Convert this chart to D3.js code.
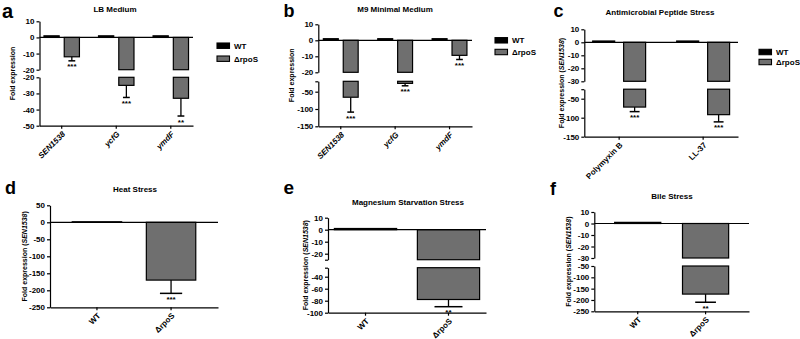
<!DOCTYPE html>
<html>
<head>
<meta charset="utf-8">
<script src="https://cdn.jsdelivr.net/npm/d3@7"></script>
<style>
  body { margin: 0; background: #fff; }
  svg { display: block; font-family: "Liberation Sans", Arial, sans-serif; font-weight: bold; }
</style>
</head>
<body>
<svg width="800" height="339"></svg>
<script>
const svg = d3.select("svg");

// ---- data ----
const seriesNames = ["WT", "\u0394rpoS"];
const genes = ["SEN1538", "ycfG", "ymdF"];
const peptides = ["Polymyxin B", "LL-37"];

// a: LB medium
const lbWT = [1, 1, 1];
const lbRpoS = [-12, -25, -33];
const lbErr = [2.5, 7.5, 11];
const lbStars = ["***", "***", "**"];
const lbTicksUpper = [10, 0, -10, -20];
const lbTicksLower = [-20, -30, -40, -50];

// b: M9 minimal medium
const m9WT = [1, 1, 1];
const m9RpoS = [-66, -26, -9.4];
const m9Err = [43, 7, 2.6];
const m9Stars = ["***", "***", "***"];
const m9TicksUpper = [10, 0, -10, -20];
const m9TicksLower = [-50, -100, -150];

// c: antimicrobial peptides
const ampWT = [1, 1];
const ampRpoS = [-72, -92];
const ampErr = [12, 19];
const ampStars = ["***", "***"];
const ampTicksUpper = [10, 0, -10, -20, -30];
const ampTicksLower = [-50, -100, -150];

// d: heat
const heatValues = [1.5, -170];
const heatErr = [0, 39];
const heatStars = ["", "***"];
const heatTicks = [50, 0, -50, -100, -150, -200, -250];

// e: magnesium starvation
const mgValues = [1, -78];
const mgErr = [0, 12];
const mgStars = ["", "**"];
const mgTicksUpper = [10, 0, -10, -20];
const mgTicksLower = [-40, -60, -80, -100];

// f: bile
const bileValues = [1, -174];
const bileErr = [0, 36];
const bileStars = ["", "**"];
const bileTicksUpper = [10, 0, -10, -20, -30];
const bileTicksLower = [-50, -100, -150, -200, -250];

const colorWT = "#000";
const colorRpoS = "#6f6f6f";

// ---- panel layout ----
const panels = [
  { letter: "a", lx: 2, ly: 18, lsize: 20, title: "LB Medium", tx: 115, ty: 12,
    cats: genes, italic: true, grouped: true, wt: lbWT, rpos: lbRpoS, err: lbErr, stars: lbStars,
    x: [39.5, 193], padIn: 0.35, padOut: 0.082, subPad: 0.25,
    segs: [{ dom: [10, -20], rng: [21.3, 69.7], ticks: lbTicksUpper },
           { dom: [-20, -50], rng: [77.3, 125.7], ticks: lbTicksLower }],
    yTitle: "Fold expression", gene: false, ytx: 12, legend: { x: 217, y: [45.7, 58.7] } },
  { letter: "b", lx: 283.5, ly: 16.5, lsize: 18, title: "M9 Minimal Medium", tx: 395, ty: 12,
    cats: genes, italic: true, grouped: true, wt: m9WT, rpos: m9RpoS, err: m9Err, stars: m9Stars,
    x: [318.3, 472], padIn: 0.36, padOut: 0.093, subPad: 0.25,
    segs: [{ dom: [10, -20], rng: [24.3, 72.3], ticks: m9TicksUpper },
           { dom: [-20, -150], rng: [81.3, 126.3], ticks: m9TicksLower }],
    yTitle: "Fold expression", gene: false, ytx: 291, legend: { x: 495, y: [40.3, 52] } },
  { letter: "c", lx: 553.5, ly: 16.5, lsize: 18, title: "Antimicrobial Peptide Stress", tx: 660, ty: 15,
    cats: peptides, italic: false, grouped: true, wt: ampWT, rpos: ampRpoS, err: ampErr, stars: ampStars,
    x: [584.3, 738], padIn: 0.37, padOut: 0.1, subPad: 0.29,
    segs: [{ dom: [10, -30], rng: [29.3, 81.3], ticks: ampTicksUpper },
           { dom: [-25, -150], rng: [89.2, 136.7], ticks: ampTicksLower }],
    yTitle: "Fold expression", gene: true, ytx: 561, legend: { x: 759, y: [52, 62] } },
  { letter: "d", lx: 5, ly: 194, lsize: 18, title: "Heat Stress", tx: 135, ty: 192,
    cats: seriesNames, italic: false, grouped: false, values: heatValues, err: heatErr, stars: heatStars,
    x: [50, 218], padIn: 0.333, padOut: 0.3,
    segs: [{ dom: [50, -250], rng: [205.3, 307.3], ticks: heatTicks }],
    yTitle: "Fold expression", gene: true, ytx: 24 },
  { letter: "e", lx: 283.5, ly: 193.5, lsize: 19, title: "Magnesium Starvation Stress", tx: 408, ty: 205,
    cats: seriesNames, italic: false, grouped: false, values: mgValues, err: mgErr, stars: mgStars,
    x: [328, 486], padIn: 0.25, padOut: 0.077,
    segs: [{ dom: [10, -25], rng: [217.7, 259.7], ticks: mgTicksUpper },
           { dom: [-25, -100], rng: [267.7, 312.7], ticks: mgTicksLower }],
    yTitle: "Fold expression", gene: true, ytx: 305.5 },
  { letter: "f", lx: 550, ly: 194.5, lsize: 18, title: "Bile Stress", tx: 672, ty: 199,
    cats: seriesNames, italic: false, grouped: false, values: bileValues, err: bileErr, stars: bileStars,
    x: [594.3, 749], padIn: 0.32, padOut: 0.3,
    segs: [{ dom: [10, -30], rng: [212, 258], ticks: bileTicksUpper },
           { dom: [-50, -250], rng: [266, 311.3], ticks: bileTicksLower }],
    yTitle: "Fold expression", gene: true, ytx: 568 }
];

const drawPanel = p => {
  const g = svg.append("g").attr("class", "panel-" + p.letter);
  const segs = p.segs.map(s => ({ ...s, y: d3.scaleLinear().domain(s.dom).range(s.rng) }));
  const top = segs[0].rng[0];
  const bottom = segs[segs.length - 1].rng[1];

  const xScale = d3.scaleBand()
    .domain(p.cats)
    .range(p.x)
    .paddingInner(p.padIn)
    .paddingOuter(p.padOut);

  // collect bars
  const bars = [];
  if (p.grouped) {
    const xSub = d3.scaleBand()
      .domain(seriesNames)
      .range([0, xScale.bandwidth()])
      .paddingInner(p.subPad);
    p.cats.forEach((c, i) => {
      bars.push({ x: xScale(c) + xSub(seriesNames[0]), w: xSub.bandwidth(), v: p.wt[i], e: 0, s: "", fill: colorWT });
      bars.push({ x: xScale(c) + xSub(seriesNames[1]), w: xSub.bandwidth(), v: p.rpos[i], e: p.err[i], s: p.stars[i], fill: colorRpoS });
    });
  } else {
    p.cats.forEach((c, i) => {
      bars.push({ x: xScale(c), w: xScale.bandwidth(), v: p.values[i], e: p.err[i], s: p.stars[i], fill: i === 0 ? colorWT : colorRpoS });
    });
  }

  // bars, cut into each axis segment
  segs.forEach(s => {
    const pieces = bars.map(b => {
      const hi = Math.min(Math.max(0, b.v), s.dom[0]);
      const lo = Math.max(Math.min(0, b.v), s.dom[1]);
      return { ...b, hi, lo };
    }).filter(b => b.hi > b.lo);
    g.append("g").selectAll("rect").data(pieces).enter().append("rect")
      .attr("x", b => b.x)
      .attr("y", b => s.y(b.hi))
      .attr("width", b => b.w)
      .attr("height", b => s.y(b.lo) - s.y(b.hi))
      .attr("fill", b => b.fill)
      .attr("stroke", "#000")
      .attr("stroke-width", 1.2);
  });

  // error bars + stars
  bars.filter(b => b.e > 0).forEach(b => {
    const s = segs.find(sg => b.v <= sg.dom[0] && b.v >= sg.dom[1]);
    const end = Math.max(b.v - b.e, s.dom[1]);
    const cx = b.x + b.w / 2;
    const cw = b.w * 0.45;
    g.append("line")
      .attr("x1", cx).attr("x2", cx)
      .attr("y1", s.y(b.v)).attr("y2", s.y(end))
      .attr("stroke", "#000").attr("stroke-width", 1.3);
    g.append("line")
      .attr("x1", cx - cw / 2).attr("x2", cx + cw / 2)
      .attr("y1", s.y(end)).attr("y2", s.y(end))
      .attr("stroke", "#000").attr("stroke-width", 1.5);
    g.append("text")
      .text(b.s)
      .attr("x", cx)
      .attr("y", s.y(end) + 8.5)
      .attr("text-anchor", "middle")
      .attr("font-size", 8);
  });

  // y axis segments
  segs.forEach(s => {
    const vals = Array.from(new Set([...s.ticks, ...s.dom]));
    const axis = d3.axisLeft(s.y)
      .tickValues(vals)
      .tickSize(3)
      .tickSizeOuter(0)
      .tickPadding(2)
      .tickFormat(d => s.ticks.includes(d) ? String(d) : "");
    const ag = g.append("g")
      .attr("transform", `translate(${p.x[0]},0)`)
      .call(axis);
    ag.selectAll("path, line").attr("stroke", "#000").attr("stroke-width", 1.2);
    ag.selectAll("text")
      .attr("font-size", 8)
      .attr("font-weight", "bold")
      .attr("font-family", '"Liberation Sans", Arial, sans-serif')
      .attr("fill", "#000");
  });

  // zero line
  g.append("line")
    .attr("x1", p.x[0]).attr("x2", p.x[1])
    .attr("y1", segs[0].y(0)).attr("y2", segs[0].y(0))
    .attr("stroke", "#000").attr("stroke-width", 1.2);

  // bottom x axis
  const xAxisG = g.append("g")
    .attr("transform", `translate(0,${bottom})`)
    .call(d3.axisBottom(xScale).tickSize(3).tickSizeOuter(0));
  xAxisG.selectAll("path, line").attr("stroke", "#000").attr("stroke-width", 1.2);
  xAxisG.selectAll("text")
    .attr("x", 0).attr("y", 0).attr("dy", "0.35em")
    .attr("transform", "translate(2,7) rotate(-45)")
    .attr("text-anchor", "end")
    .attr("font-size", 8)
    .attr("font-weight", "bold")
    .attr("font-style", p.italic ? "italic" : "normal")
    .attr("font-family", '"Liberation Sans", Arial, sans-serif')
    .attr("fill", "#000");

  // y title
  const yt = g.append("text")
    .attr("transform", `translate(${p.ytx + 2.5},${(top + bottom) / 2}) rotate(-90)`)
    .attr("text-anchor", "middle")
    .attr("font-size", 7);
  yt.append("tspan").text(p.yTitle);
  if (p.gene) {
    yt.append("tspan").text(" (");
    yt.append("tspan").attr("font-style", "italic").text("SEN1538");
    yt.append("tspan").text(")");
  }

  // title and panel letter
  g.append("text")
    .text(p.title)
    .attr("x", p.tx).attr("y", p.ty)
    .attr("text-anchor", "middle")
    .attr("font-size", 8);

  g.append("text")
    .text(p.letter)
    .attr("x", p.lx).attr("y", p.ly)
    .attr("font-size", p.lsize);

  // legend
  if (p.legend) {
    const lg = g.append("g").attr("class", "legend");
    seriesNames.forEach((n, i) => {
      lg.append("rect")
        .attr("x", p.legend.x).attr("y", p.legend.y[i] - 2.7)
        .attr("width", 12.5).attr("height", 5.4)
        .attr("fill", i === 0 ? colorWT : colorRpoS)
        .attr("stroke", "#000").attr("stroke-width", 1.1);
      lg.append("text")
        .text(n)
        .attr("x", p.legend.x + 17).attr("y", p.legend.y[i] + 2.8)
        .attr("font-size", 8);
    });
  }
};

panels.forEach(drawPanel);
</script>
</body>
</html>
